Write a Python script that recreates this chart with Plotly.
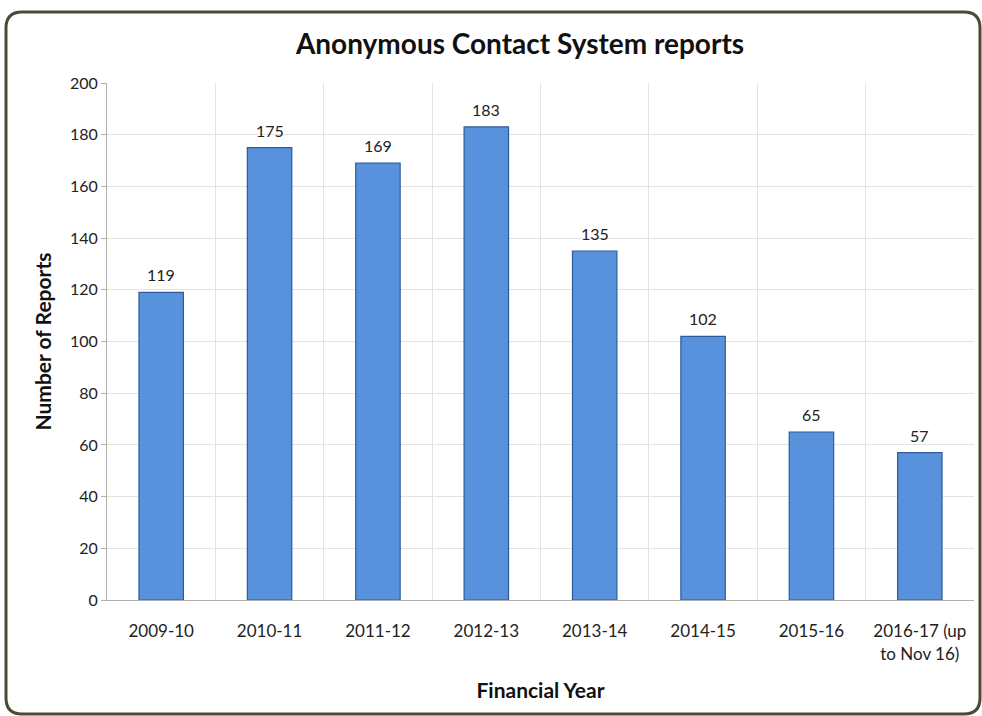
import plotly.graph_objects as go

categories = ["2009-10", "2010-11", "2011-12", "2012-13", "2013-14", "2014-15", "2015-16", "2016-17 (up<br>to Nov 16)"]
reports = [119, 175, 169, 183, 135, 102, 65, 57]
y_ticks = list(range(0, 201, 20))

W, H = 982, 716
L, R, T, B = 107, 8, 83, 116
pw, ph = W - L - R, H - T - B

def px(x):
    return (x - L) / pw

def py(y):
    return (H - B - y) / ph

xs = list(range(len(categories)))
FONT = "Lato, Open Sans, sans-serif"

fig = go.Figure()
fig.add_trace(go.Bar(
    x=xs, y=reports, width=0.41,
    marker=dict(color="#5892DC", line=dict(color="#2E5C9A", width=1.2)),
    hoverinfo="skip",
))
for x, v in zip(xs, reports):
    fig.add_annotation(x=x, y=v, text=str(v), showarrow=False, yanchor="bottom",
                       yshift=6, font=dict(family=FONT, size=16, color="#222"))

# rounded frame
x0, x1, y0, y1, r = 6, 980, 12, 714, 16
path = (f"M {px(x0+r)},{py(y0)} L {px(x1-r)},{py(y0)} "
        f"Q {px(x1)},{py(y0)} {px(x1)},{py(y0+r)} "
        f"L {px(x1)},{py(y1-r)} Q {px(x1)},{py(y1)} {px(x1-r)},{py(y1)} "
        f"L {px(x0+r)},{py(y1)} Q {px(x0)},{py(y1)} {px(x0)},{py(y1-r)} "
        f"L {px(x0)},{py(y0+r)} Q {px(x0)},{py(y0)} {px(x0+r)},{py(y0)} Z")

fig.update_layout(
    width=W, height=H,
    margin=dict(l=L, r=R, t=T, b=B),
    paper_bgcolor="white", plot_bgcolor="white",
    showlegend=False,
    font=dict(family=FONT, size=16, color="#222"),
    title=dict(text="<b>Anonymous Contact System reports</b>", x=520 / W, xanchor="center",
               y=1 - 44 / H, yanchor="middle",
               font=dict(size=28, color="#111", family=FONT)),
    xaxis=dict(
        range=[-0.5, len(categories) - 0.5],
        tickvals=xs, ticktext=categories, ticks="", showgrid=False,
        showline=True, linecolor="#b0b0b0", linewidth=1,
        tickfont=dict(size=17, color="#222"), ticklabelstandoff=16,
        minor=dict(tick0=-0.5, dtick=1, showgrid=True, gridcolor="#e3e3e3", gridwidth=1),
        title=dict(text="<b>Financial Year</b>", font=dict(size=21, color="#111"), standoff=20),
        zeroline=False, fixedrange=True,
    ),
    yaxis=dict(
        range=[0, 200], tickvals=y_ticks,
        showgrid=True, gridcolor="#e3e3e3", gridwidth=1,
        showline=True, linecolor="#b0b0b0", linewidth=1,
        ticks="outside", ticklen=5, tickcolor="#b0b0b0",
        tickfont=dict(size=16, color="#222"),
        title=dict(text="<b>Number of Reports</b>", font=dict(size=21, color="#111"), standoff=12),
        zeroline=False, fixedrange=True,
    ),
    shapes=[dict(type="path", path=path, xref="paper", yref="paper",
                 line=dict(color="#4b4a35", width=3), layer="above")],
)

fig.write_html("out.html")
